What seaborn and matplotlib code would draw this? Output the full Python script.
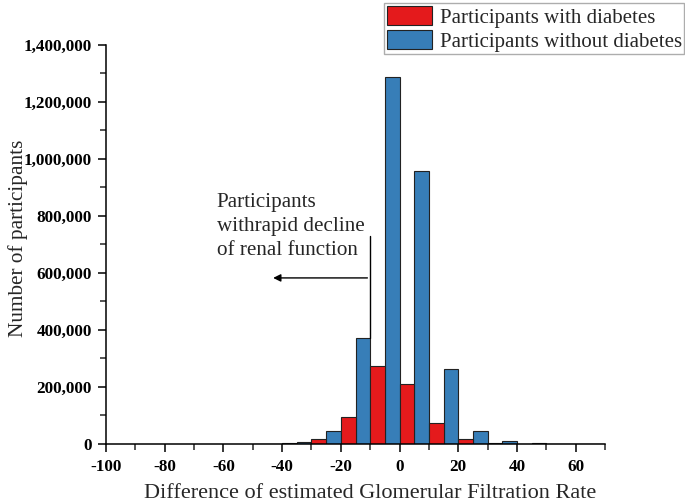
import numpy as np
import pandas as pd
import matplotlib
matplotlib.use("Agg")
import matplotlib.pyplot as plt
from matplotlib.ticker import MultipleLocator, FuncFormatter
from matplotlib.patches import Patch
import seaborn as sns

# Bins of width 10; red drawn in left half, blue in right half
bin_starts = [-50, -40, -30, -20, -10, 0, 10, 20, 30, 40, 50, 60]
with_diabetes = [300, 2500, 19000, 96000, 273000, 212000, 72000, 16000, 4000, 1000, 500, 300]
without_diabetes = [500, 6000, 44000, 371000, 1285000, 958000, 262000, 44000, 10000, 3000, 1000, 800]
labels = ["Participants with diabetes", "Participants without diabetes"]
colors = ["#E41A1C", "#377EB8"]

rows = []
for b, r, bl in zip(bin_starts, with_diabetes, without_diabetes):
    rows.append({"x": b + 2.5, "count": r, "group": labels[0]})
    rows.append({"x": b + 7.5, "count": bl, "group": labels[1]})
df = pd.DataFrame(rows)

sns.set_theme(style="ticks")
plt.rcParams["font.family"] = ["Liberation Serif", "DejaVu Serif"]
plt.rcParams["axes.unicode_minus"] = False

fig = plt.figure(figsize=(6.85, 5.04), dpi=100)
ax = fig.add_axes([106/685, 1-444/504, 499/685, (444-44.5)/504])

sns.histplot(data=df, x="x", weights="count", hue="group", hue_order=labels,
             palette=colors, binwidth=5, binrange=(-50, 70), multiple="layer",
             alpha=1, edgecolor="#222222", linewidth=0.8, legend=False, ax=ax)

ax.set_xlim(-100, 70)
ax.set_ylim(0, 1400000)
ax.xaxis.set_major_locator(MultipleLocator(20))
ax.xaxis.set_minor_locator(MultipleLocator(10))
ax.yaxis.set_major_locator(MultipleLocator(200000))
ax.yaxis.set_minor_locator(MultipleLocator(100000))
ax.yaxis.set_major_formatter(FuncFormatter(lambda v, p: f"{int(v):,}"))
ax.tick_params(axis="both", which="major", direction="out", length=5.8, width=1.1,
               labelsize=12.3, colors="black")
ax.tick_params(axis="y", which="major", pad=4.5)
ax.tick_params(axis="x", which="major", pad=5)
ax.tick_params(axis="both", which="minor", direction="out", length=4, width=1.1)
for lab in ax.get_xticklabels() + ax.get_yticklabels():
    lab.set_fontweight("bold")
for s in ["top", "right"]:
    ax.spines[s].set_visible(False)
for s in ["left", "bottom"]:
    ax.spines[s].set_linewidth(1.1)
    ax.spines[s].set_color("black")

ax.set_xlabel("Difference of estimated Glomerular Filtration Rate", fontsize=16)
ax.set_ylabel("Number of participants", fontsize=15.3)
ax.xaxis.set_label_coords(0.53, -0.100)
ax.yaxis.set_label_coords(-0.157, 0.514)

# annotation
ax.text(-62.3, 880000, "Participants\nwithrapid decline\nof renal function",
        fontsize=15.2, va="top", ha="left", linespacing=1.36)
ax.plot([-10, -10], [371000, 730000], color="black", lw=1)
ax.annotate("", xy=(-44, 582000), xytext=(-10, 582000),
            arrowprops=dict(arrowstyle="-|>", color="black", lw=1, mutation_scale=11))

# legend
handles = [Patch(facecolor=c, edgecolor="#222222", linewidth=0.8) for c in colors]
leg = fig.legend(handles, labels, loc="lower left",
                 bbox_to_anchor=(384/685, 1-54/504), bbox_transform=fig.transFigure,
                 fontsize=15, frameon=True, fancybox=False, edgecolor="#999999",
                 handlelength=2.2, handleheight=1.05, labelspacing=0.1,
                 handletextpad=0.35, borderpad=0.12, borderaxespad=0)
leg.get_frame().set_linewidth(1)

fig.savefig("out.png", dpi=100)
